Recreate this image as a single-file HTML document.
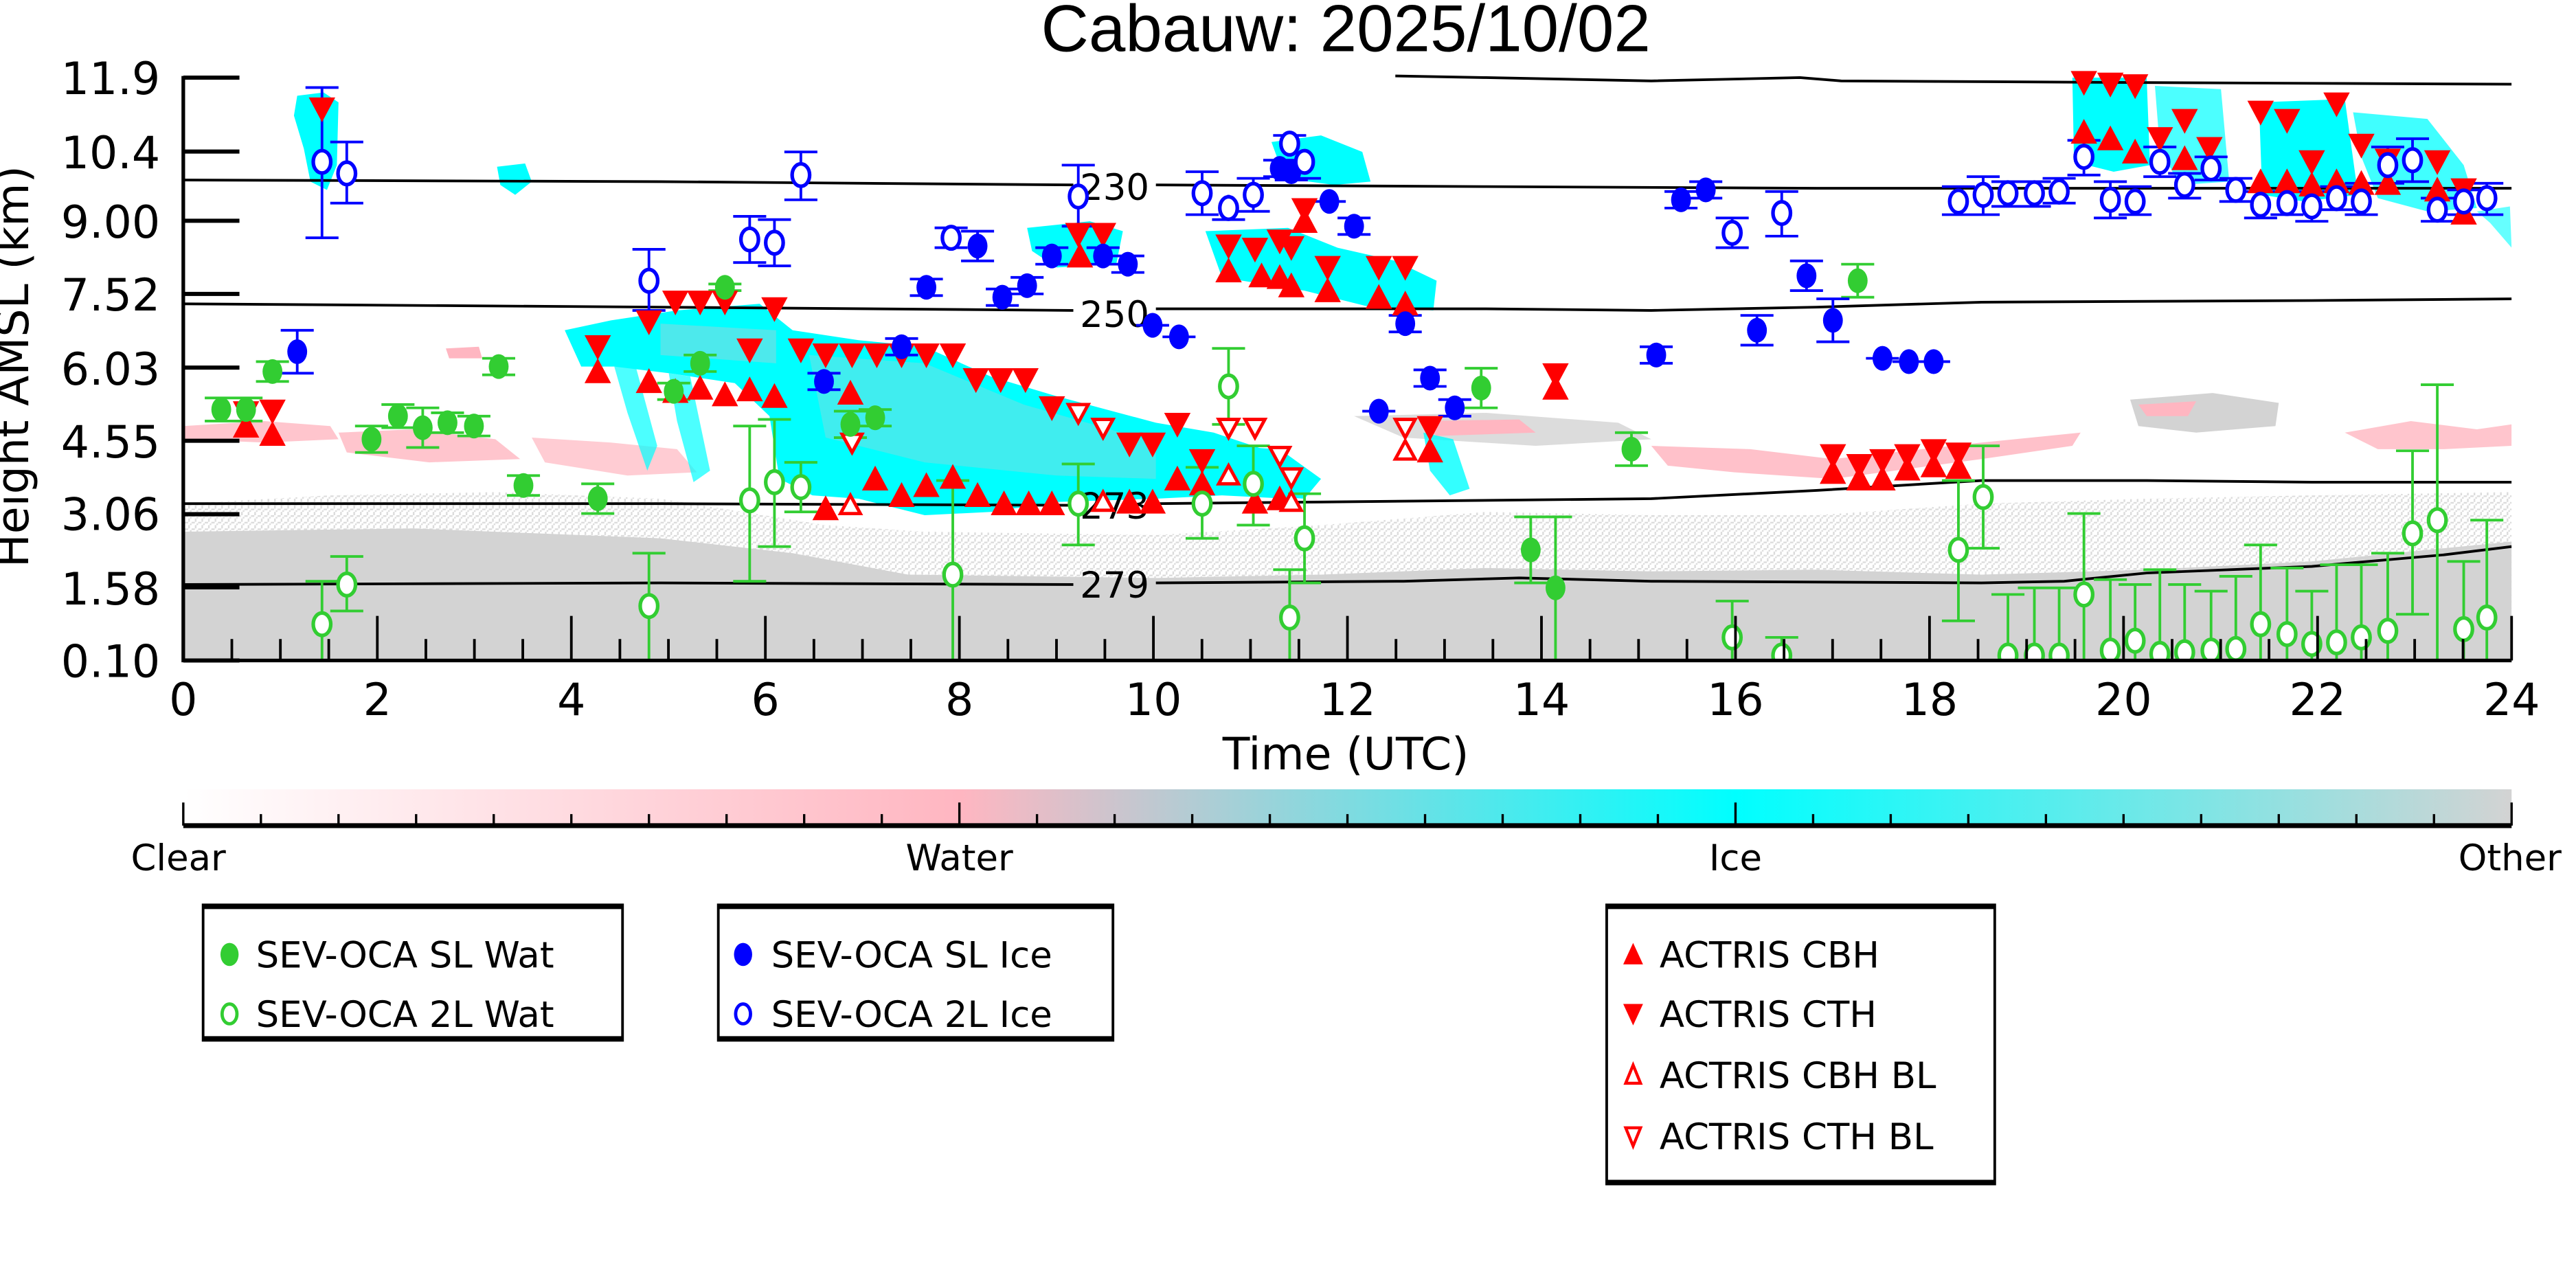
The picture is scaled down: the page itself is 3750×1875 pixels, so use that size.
<!DOCTYPE html>
<html><head><meta charset="utf-8"><style>html,body{margin:0;padding:0;background:#fff;}svg{display:block;}</style></head>
<body>
<svg width="3750" height="1875" viewBox="0 0 1560 780" xmlns="http://www.w3.org/2000/svg">
<defs>
<clipPath id="pc"><rect x="111" y="40" width="1410" height="360"/></clipPath>
<linearGradient id="cb" x1="0" x2="1" y1="0" y2="0">
<stop offset="0" stop-color="#ffffff"/><stop offset="0.3333" stop-color="#ffb6c1"/><stop offset="0.6667" stop-color="#00ffff"/><stop offset="1" stop-color="#d3d3d3"/>
</linearGradient>
<pattern id="spk" width="4" height="4" patternUnits="userSpaceOnUse"><rect width="4" height="4" fill="#fff"/><rect x="0" y="0" width="2" height="1" fill="#d3d3d3"/><rect x="2" y="2" width="1" height="2" fill="#d3d3d3"/><rect x="3" y="1" width="1" height="1" fill="#d3d3d3"/></pattern>
<ellipse id="gf" rx="6" ry="7.5" fill="#32cd32"/>
<ellipse id="go" rx="5.3" ry="6.8" fill="#fff" stroke="#32cd32" stroke-width="2.2"/>
<ellipse id="bf" rx="6" ry="7.5" fill="#0000ff"/>
<ellipse id="bo" rx="5.3" ry="6.8" fill="#fff" stroke="#0000ff" stroke-width="2.2"/>
<path id="td" d="M-8,-7H8L0,8Z" fill="#ff0000"/>
<path id="tu" d="M-8,7H8L0,-8Z" fill="#ff0000"/>
<path id="tdo" d="M-6,-5H6L0,6Z" fill="#fff" stroke="#ff0000" stroke-width="2"/>
<path id="tuo" d="M-6,5H6L0,-6Z" fill="#fff" stroke="#ff0000" stroke-width="2"/>
</defs>

<text x="815" y="31" font-family="Liberation Sans, sans-serif" font-size="40" text-anchor="middle">Cabauw: 2025/10/02</text>

<g clip-path="url(#pc)">
<path d="M111,305 L200,300 L300,298 L400,302 L500,318 L560,322 L700,324 L800,318 L900,310 L1000,312 L1100,312 L1200,305 L1300,302 L1400,300 L1521,298 L1521,400 L111,400Z" fill="url(#spk)" opacity="0.8"/>
<path d="M111,322 L250,320 L400,326 L480,335 L550,348 L700,350 L800,348 L900,344 L1000,346 L1100,345 L1200,348 L1300,345 L1400,340 L1480,332 L1521,328 L1521,400 L111,400Z" fill="#d3d3d3"/>
<path d="M111,258 L160,255 L200,258 L205,266 L160,268 L111,266Z" fill="#ffb6c1" opacity="0.8"/>
<path d="M205,262 L250,260 L300,266 L315,278 L260,280 L210,274Z" fill="#ffb6c1" opacity="0.8"/>
<path d="M270,211 L290,210 L292,217 L272,217Z" fill="#ffb6c1"/>
<path d="M322,265 L370,268 L410,272 L422,286 L380,288 L330,280Z" fill="#ffb6c1" opacity="0.7"/>
<path d="M820,252 L900,250 L980,256 L1000,266 L930,270 L850,265Z" fill="#d3d3d3" opacity="0.8"/>
<path d="M860,255 L920,254 L930,262 L870,264Z" fill="#ffb6c1"/>
<path d="M1000,270 L1060,272 L1110,278 L1200,268 L1260,262 L1255,270 L1200,278 L1110,290 L1050,286 L1010,282Z" fill="#ffb6c1" opacity="0.85"/>
<path d="M1290,242 L1340,238 L1380,244 L1378,258 L1330,262 L1295,258Z" fill="#d3d3d3"/>
<path d="M1295,245 L1330,243 L1325,252 L1300,252Z" fill="#ffb6c1"/>
<path d="M1420,262 L1460,255 L1500,260 L1521,257 L1521,270 L1480,272 L1440,272Z" fill="#ffb6c1" opacity="0.8"/>
<path d="M180,58 L196,56 L205,62 L204,100 L198,115 L188,110 L184,90 L178,70Z" fill="#00ffff"/>
<path d="M301,101 L318,99 L322,110 L312,118 L303,112Z" fill="#00ffff"/>
<path d="M342,200 L370,194 L410,188 L460,184 L480,200 L520,206 L560,210 L600,228 L640,240 L700,256 L735,262 L765,272 L790,292 L780,302 L740,300 L700,302 L640,304 L600,310 L560,312 L520,302 L492,300 L472,290 L466,252 L445,232 L405,226 L372,222 L352,222Z" fill="#00ffff"/>
<path d="M372,222 L385,222 L398,270 L392,285 L380,250Z" fill="#00ffff" opacity="0.7"/>
<path d="M405,226 L418,228 L430,285 L420,292 L410,255Z" fill="#00ffff" opacity="0.7"/>
<path d="M490,215 L560,220 L620,245 L700,268 L700,290 L640,288 L560,280 L500,265Z" fill="#ffb6c1" opacity="0.25"/>
<path d="M400,196 L470,200 L470,220 L400,215Z" fill="#ffb6c1" opacity="0.3"/>
<path d="M622,138 L660,134 L680,140 L676,160 L640,162 L625,152Z" fill="#00ffff"/>
<path d="M730,140 L780,138 L810,150 L845,158 L870,170 L868,188 L830,186 L790,176 L740,168Z" fill="#00ffff"/>
<path d="M770,86 L800,82 L825,92 L830,110 L808,112 L778,108Z" fill="#00ffff"/>
<path d="M740,270 L775,272 L800,290 L790,302 L760,300 L742,288Z" fill="#00ffff"/>
<path d="M862,262 L880,266 L890,296 L878,300 L866,285Z" fill="#00ffff" opacity="0.8"/>
<path d="M1255,47 L1300,47 L1302,100 L1280,104 L1256,98Z" fill="#00ffff"/>
<path d="M1305,52 L1345,54 L1350,110 L1320,112 L1308,90Z" fill="#00ffff" opacity="0.7"/>
<path d="M1368,62 L1420,60 L1428,118 L1395,122 L1370,118Z" fill="#00ffff"/>
<path d="M1425,68 L1470,72 L1492,100 L1500,126 L1470,128 L1440,120 L1430,95Z" fill="#00ffff" opacity="0.75"/>
<path d="M1500,128 L1520,125 L1521,150 L1508,135Z" fill="#00ffff" opacity="0.6"/>

<g fill="none" stroke="#000" stroke-width="1.6">
<path d="M845,46 L900,47 L1000,49 L1090,47 L1115,49 L1300,50 L1521,51"/>
<path d="M111,109 L400,110 L650,112 M700,112 L900,113 L1100,114 L1521,114"/>
<path d="M111,184 L400,186 L650,188 M700,187 L900,187 L1000,188 L1100,186 L1200,183 L1400,182 L1521,181"/>
<path d="M111,305 L400,305 L650,306 M700,305 L800,304 L1000,302 L1100,297 L1200,291 L1300,291 L1400,292 L1521,292"/>
<path d="M111,354 L400,353 L650,354 M700,353 L850,352 L920,350 L1000,352 L1200,353 L1250,352 L1300,347 L1400,343 L1480,336 L1521,331"/>
</g>
<g font-family="DejaVu Sans, sans-serif" font-size="22" text-anchor="middle">
<text x="675" y="121">230</text>
<text x="675" y="198">250</text>
<text x="675" y="314">273</text>
<text x="675" y="362">279</text>
</g>

<path fill="none" stroke="#32cd32" stroke-width="1.6" d="M134 241V255M124 241h20M124 255h20M149 241V255M139 241h20M139 255h20M165 219V231M155 219h20M155 231h20M225 258V274M215 258h20M215 274h20M241 245V259M231 245h20M231 259h20M256 247V271M246 247h20M246 271h20M271 250V262M261 250h20M261 262h20M287 252V264M277 252h20M277 264h20M302 217V227M292 217h20M292 227h20M317 288V300M307 288h20M307 300h20M362 293V311M352 293h20M352 311h20M408 232V242M398 232h20M398 242h20M424 215V225M414 215h20M414 225h20M429 172h20M429 176h20M515 249V265M505 249h20M505 265h20M530 248V258M520 248h20M520 258h20M897 223V247M887 223h20M887 247h20M927 313V353M917 313h20M917 353h20M942 313V400M932 313h20M988 262V282M978 262h20M978 282h20M1125 160V180M1115 160h20M1115 180h20
M195 352V400M185 352h20M210 337V370M200 337h20M200 370h20M393 335V400M383 335h20M454 258V352M444 258h20M444 352h20M469 254V331M459 254h20M459 331h20M485 280V310M475 280h20M475 310h20M577 291V400M567 291h20M653 281V330M643 281h20M643 330h20M728 283V326M718 283h20M718 326h20M744 211V257M734 211h20M734 257h20M759 270V318M749 270h20M749 318h20M790 299V353M780 299h20M780 353h20M781 345V400M771 345h20M1049 364V400M1039 364h20M1079 386V400M1069 386h20M1186 291V376M1176 291h20M1176 376h20M1201 270V332M1191 270h20M1191 332h20M1216 360V400M1206 360h20M1232 356V400M1222 356h20M1247 356V400M1237 356h20M1262 311V400M1252 311h20M1278 351V400M1268 351h20M1293 354V400M1283 354h20M1308 345V400M1298 345h20M1323 354V400M1313 354h20M1339 358V400M1329 358h20M1354 349V400M1344 349h20M1369 330V400M1359 330h20M1385 344V400M1375 344h20M1400 358V400M1390 358h20M1415 342V400M1405 342h20M1430 342V400M1420 342h20M1446 335V400M1436 335h20M1461 273V372M1451 273h20M1451 372h20M1476 233V400M1466 233h20M1492 340V400M1482 340h20M1506 315V400M1496 315h20"/>
<path fill="none" stroke="#0000ff" stroke-width="1.6" d="M180 200V226M170 200h20M170 226h20M499 226V236M489 226h20M489 236h20M546 205V215M536 205h20M536 215h20M561 169V179M551 169h20M551 179h20M592 140V158M582 140h20M582 158h20M607 175V185M597 175h20M597 185h20M622 168V178M612 168h20M612 178h20M637 150V160M627 150h20M627 160h20M668 150V160M658 150h20M658 160h20M683 155V165M673 155h20M673 165h20M688 197h20M704 204h20M775 97V107M765 97h20M765 107h20M782 99V109M772 109h20M795 122h20M820 132V142M810 132h20M810 142h20M851 191V201M841 191h20M841 201h20M866 224V234M856 224h20M856 234h20M825 249h20M881 242V252M871 242h20M871 252h20M1003 210V220M993 210h20M993 220h20M1018 116V126M1008 116h20M1008 126h20M1033 110V120M1023 110h20M1023 120h20M1064 191V209M1054 191h20M1054 209h20M1094 158V176M1084 158h20M1084 176h20M1110 181V207M1100 181h20M1100 207h20M1130 217h20M1146 219h20M1161 219h20
M195 53V144M185 53h20M185 144h20M210 86V123M200 86h20M200 123h20M393 151V188M383 151h20M383 188h20M454 131V159M444 131h20M444 159h20M469 133V161M459 133h20M459 161h20M485 92V121M475 92h20M475 121h20M566 138h20M566 150h20M653 100V137M643 100h20M643 137h20M728 104V130M718 104h20M718 130h20M744 118V133M734 133h20M759 108V128M749 108h20M749 128h20M771 82h20M780 108h20M1049 132V150M1039 132h20M1039 150h20M1079 116V143M1069 116h20M1069 143h20M1176 113h20M1176 130h20M1201 107V130M1191 107h20M1191 130h20M1206 110h20M1206 125h20M1222 110h20M1222 125h20M1237 108h20M1237 123h20M1262 85V106M1252 85h20M1252 106h20M1278 110V132M1268 110h20M1268 132h20M1283 113h20M1283 130h20M1308 89V107M1298 89h20M1298 107h20M1313 105h20M1313 120h20M1329 95h20M1329 109h20M1344 108h20M1344 122h20M1369 116V132M1359 116h20M1359 132h20M1375 116h20M1375 130h20M1400 116V134M1390 116h20M1390 134h20M1405 113h20M1405 127h20M1430 111V130M1420 111h20M1420 130h20M1446 89V111M1436 89h20M1436 111h20M1461 84V110M1451 84h20M1451 110h20M1466 120h20M1466 134h20M1482 115h20M1482 130h20M1506 111V130M1496 111h20M1496 130h20"/>

<g>
<use href="#td" x="195" y="66"/><use href="#td" x="149" y="250"/><use href="#td" x="165" y="249"/>
<use href="#tu" x="149" y="258"/><use href="#tu" x="165" y="263"/>
<use href="#td" x="362" y="210"/><use href="#td" x="393" y="195"/><use href="#td" x="409" y="183"/><use href="#td" x="424" y="183"/><use href="#td" x="439" y="183"/><use href="#td" x="454" y="212"/><use href="#td" x="469" y="187"/><use href="#td" x="485" y="212"/><use href="#td" x="500" y="215"/><use href="#td" x="516" y="215"/><use href="#td" x="531" y="215"/><use href="#td" x="546" y="215"/><use href="#td" x="561" y="215"/><use href="#td" x="577" y="215"/><use href="#td" x="591" y="230"/><use href="#td" x="606" y="230"/><use href="#td" x="621" y="230"/><use href="#td" x="637" y="247"/><use href="#td" x="684" y="269"/><use href="#td" x="698" y="269"/><use href="#td" x="713" y="257"/><use href="#td" x="728" y="279"/>
<use href="#td" x="653" y="142"/><use href="#td" x="668" y="142"/><use href="#td" x="744" y="149"/><use href="#td" x="760" y="151"/><use href="#td" x="775" y="146"/><use href="#td" x="782" y="150"/><use href="#td" x="790" y="127"/><use href="#td" x="804" y="162"/><use href="#td" x="835" y="162"/><use href="#td" x="851" y="162"/><use href="#td" x="866" y="259"/><use href="#td" x="942" y="227"/>
<use href="#td" x="1110" y="276"/><use href="#td" x="1126" y="282"/><use href="#td" x="1140" y="279"/><use href="#td" x="1155" y="276"/><use href="#td" x="1171" y="273"/><use href="#td" x="1186" y="275"/>
<use href="#td" x="1262" y="50"/><use href="#td" x="1278" y="51"/><use href="#td" x="1293" y="52"/><use href="#td" x="1308" y="84"/><use href="#td" x="1323" y="73"/><use href="#td" x="1338" y="90"/><use href="#td" x="1369" y="68"/><use href="#td" x="1385" y="73"/><use href="#td" x="1400" y="98"/><use href="#td" x="1415" y="63"/><use href="#td" x="1430" y="88"/><use href="#td" x="1446" y="97"/><use href="#td" x="1476" y="98"/><use href="#td" x="1492" y="115"/>
<use href="#tu" x="362" y="225"/><use href="#tu" x="393" y="231"/><use href="#tu" x="409" y="237"/><use href="#tu" x="424" y="235"/><use href="#tu" x="439" y="239"/><use href="#tu" x="454" y="236"/><use href="#tu" x="469" y="240"/><use href="#tu" x="500" y="308"/><use href="#tu" x="515" y="238"/><use href="#tu" x="530" y="290"/><use href="#tu" x="546" y="300"/><use href="#tu" x="561" y="294"/><use href="#tu" x="577" y="289"/><use href="#tu" x="592" y="300"/><use href="#tu" x="608" y="305"/><use href="#tu" x="623" y="305"/><use href="#tu" x="637" y="305"/><use href="#tu" x="684" y="304"/><use href="#tu" x="698" y="304"/><use href="#tu" x="713" y="290"/><use href="#tu" x="728" y="293"/><use href="#tu" x="760" y="304"/><use href="#tu" x="775" y="302"/>
<use href="#tu" x="654" y="155"/><use href="#tu" x="744" y="164"/><use href="#tu" x="764" y="167"/><use href="#tu" x="775" y="168"/><use href="#tu" x="782" y="173"/><use href="#tu" x="790" y="134"/><use href="#tu" x="804" y="176"/><use href="#tu" x="835" y="180"/><use href="#tu" x="851" y="184"/><use href="#tu" x="866" y="273"/><use href="#tu" x="942" y="235"/>
<use href="#tu" x="1110" y="286"/><use href="#tu" x="1126" y="290"/><use href="#tu" x="1140" y="290"/><use href="#tu" x="1155" y="284"/><use href="#tu" x="1171" y="282"/><use href="#tu" x="1186" y="283"/>
<use href="#tu" x="1262" y="80"/><use href="#tu" x="1278" y="84"/><use href="#tu" x="1293" y="92"/><use href="#tu" x="1323" y="96"/><use href="#tu" x="1369" y="110"/><use href="#tu" x="1385" y="110"/><use href="#tu" x="1400" y="112"/><use href="#tu" x="1415" y="110"/><use href="#tu" x="1430" y="111"/><use href="#tu" x="1446" y="111"/><use href="#tu" x="1476" y="115"/><use href="#tu" x="1492" y="129"/>
<use href="#tdo" x="516" y="268"/><use href="#tdo" x="653" y="250"/><use href="#tdo" x="668" y="259"/><use href="#tdo" x="744" y="259"/><use href="#tdo" x="760" y="259"/><use href="#tdo" x="775" y="276"/><use href="#tdo" x="782" y="289"/><use href="#tdo" x="851" y="259"/>
<use href="#tuo" x="515" y="306"/><use href="#tuo" x="668" y="304"/><use href="#tuo" x="744" y="288"/><use href="#tuo" x="782" y="304"/><use href="#tuo" x="851" y="273"/>
</g>

<g>
<use href="#gf" x="134" y="248"/><use href="#gf" x="149" y="248"/><use href="#gf" x="165" y="225"/><use href="#gf" x="225" y="266"/><use href="#gf" x="241" y="252"/><use href="#gf" x="256" y="259"/><use href="#gf" x="271" y="256"/><use href="#gf" x="287" y="258"/><use href="#gf" x="302" y="222"/><use href="#gf" x="317" y="294"/><use href="#gf" x="362" y="302"/><use href="#gf" x="408" y="237"/><use href="#gf" x="424" y="220"/><use href="#gf" x="439" y="174"/><use href="#gf" x="515" y="257"/><use href="#gf" x="530" y="253"/><use href="#gf" x="897" y="235"/><use href="#gf" x="927" y="333"/><use href="#gf" x="942" y="356"/><use href="#gf" x="988" y="272"/><use href="#gf" x="1125" y="170"/>
</g>
<g>
<use href="#go" x="195" y="378"/><use href="#go" x="210" y="354"/><use href="#go" x="393" y="367"/><use href="#go" x="454" y="303"/><use href="#go" x="469" y="292"/><use href="#go" x="485" y="295"/><use href="#go" x="577" y="348"/><use href="#go" x="653" y="305"/><use href="#go" x="728" y="305"/><use href="#go" x="744" y="234"/><use href="#go" x="759" y="293"/><use href="#go" x="790" y="326"/><use href="#go" x="781" y="374"/><use href="#go" x="1049" y="386"/><use href="#go" x="1079" y="397"/><use href="#go" x="1186" y="333"/><use href="#go" x="1201" y="301"/><use href="#go" x="1216" y="397"/><use href="#go" x="1232" y="397"/><use href="#go" x="1247" y="397"/><use href="#go" x="1262" y="360"/><use href="#go" x="1278" y="394"/><use href="#go" x="1293" y="388"/><use href="#go" x="1308" y="396"/><use href="#go" x="1323" y="395"/><use href="#go" x="1339" y="394"/><use href="#go" x="1354" y="393"/><use href="#go" x="1369" y="378"/><use href="#go" x="1385" y="384"/><use href="#go" x="1400" y="390"/><use href="#go" x="1415" y="389"/><use href="#go" x="1430" y="386"/><use href="#go" x="1446" y="382"/><use href="#go" x="1461" y="323"/><use href="#go" x="1476" y="315"/><use href="#go" x="1492" y="381"/><use href="#go" x="1506" y="374"/>
</g>
<g>
<use href="#bf" x="180" y="213"/><use href="#bf" x="499" y="231"/><use href="#bf" x="546" y="210"/><use href="#bf" x="561" y="174"/><use href="#bf" x="592" y="149"/><use href="#bf" x="607" y="180"/><use href="#bf" x="622" y="173"/><use href="#bf" x="637" y="155"/><use href="#bf" x="668" y="155"/><use href="#bf" x="683" y="160"/><use href="#bf" x="698" y="197"/><use href="#bf" x="714" y="204"/><use href="#bf" x="775" y="102"/><use href="#bf" x="782" y="104"/><use href="#bf" x="805" y="122"/><use href="#bf" x="820" y="137"/><use href="#bf" x="851" y="196"/><use href="#bf" x="866" y="229"/><use href="#bf" x="835" y="249"/><use href="#bf" x="881" y="247"/><use href="#bf" x="1003" y="215"/><use href="#bf" x="1018" y="121"/><use href="#bf" x="1033" y="115"/><use href="#bf" x="1064" y="200"/><use href="#bf" x="1094" y="167"/><use href="#bf" x="1110" y="194"/><use href="#bf" x="1140" y="217"/><use href="#bf" x="1156" y="219"/><use href="#bf" x="1171" y="219"/>
</g>
<g>
<use href="#bo" x="195" y="98"/><use href="#bo" x="210" y="105"/><use href="#bo" x="393" y="170"/><use href="#bo" x="454" y="145"/><use href="#bo" x="469" y="147"/><use href="#bo" x="485" y="106"/><use href="#bo" x="576" y="144"/><use href="#bo" x="653" y="119"/><use href="#bo" x="728" y="117"/><use href="#bo" x="744" y="126"/><use href="#bo" x="759" y="118"/><use href="#bo" x="781" y="87"/><use href="#bo" x="790" y="98"/><use href="#bo" x="1049" y="141"/><use href="#bo" x="1079" y="129"/><use href="#bo" x="1186" y="122"/><use href="#bo" x="1201" y="118"/><use href="#bo" x="1216" y="117"/><use href="#bo" x="1232" y="117"/><use href="#bo" x="1247" y="116"/><use href="#bo" x="1262" y="95"/><use href="#bo" x="1278" y="121"/><use href="#bo" x="1293" y="122"/><use href="#bo" x="1308" y="98"/><use href="#bo" x="1323" y="112"/><use href="#bo" x="1339" y="102"/><use href="#bo" x="1354" y="115"/><use href="#bo" x="1369" y="124"/><use href="#bo" x="1385" y="123"/><use href="#bo" x="1400" y="125"/><use href="#bo" x="1415" y="120"/><use href="#bo" x="1430" y="122"/><use href="#bo" x="1446" y="100"/><use href="#bo" x="1461" y="97"/><use href="#bo" x="1476" y="127"/><use href="#bo" x="1492" y="122"/><use href="#bo" x="1506" y="120"/>
</g>
</g>

<g stroke="#000" fill="none">
<path d="M111,46 V400 H1521" stroke-width="2.2"/>
<path stroke-width="2.5" d="M111,47h34M111,91.8h34M111,133.7h34M111,178h34M111,222.6h34M111,266.9h34M111,311.4h34M111,355.7h34M111,400h34"/>
<path stroke-width="1.6" d="M228.5,400v-27M346,400v-27M463.5,400v-27M581,400v-27M698.5,400v-27M816,400v-27M933.5,400v-27M1051,400v-27M1168.5,400v-27M1286,400v-27M1403.5,400v-27M1521,400v-27
M140.4,400v-13M169.8,400v-13M199.1,400v-13M257.9,400v-13M287.3,400v-13M316.6,400v-13M375.4,400v-13M404.8,400v-13M434.1,400v-13M492.9,400v-13M522.3,400v-13M551.6,400v-13M610.4,400v-13M639.8,400v-13M669.1,400v-13M727.9,400v-13M757.3,400v-13M786.6,400v-13M845.4,400v-13M874.8,400v-13M904.1,400v-13M962.9,400v-13M992.3,400v-13M1021.6,400v-13M1080.4,400v-13M1109.8,400v-13M1139.1,400v-13M1197.9,400v-13M1227.3,400v-13M1256.6,400v-13M1315.4,400v-13M1344.8,400v-13M1374.1,400v-13M1432.9,400v-13M1462.3,400v-13M1491.6,400v-13"/>
</g>
<g font-family="DejaVu Sans, sans-serif" font-size="27" text-anchor="end">
<text x="97" y="57">11.9</text>
<text x="97" y="102">10.4</text>
<text x="97" y="144">9.00</text>
<text x="97" y="188">7.52</text>
<text x="97" y="233">6.03</text>
<text x="97" y="277">4.55</text>
<text x="97" y="321">3.06</text>
<text x="97" y="366">1.58</text>
<text x="97" y="410">0.10</text>
</g>
<g font-family="DejaVu Sans, sans-serif" font-size="27" text-anchor="middle">
<text x="111" y="433">0</text><text x="228.5" y="433">2</text><text x="346" y="433">4</text><text x="463.5" y="433">6</text><text x="581" y="433">8</text><text x="698.5" y="433">10</text><text x="816" y="433">12</text><text x="933.5" y="433">14</text><text x="1051" y="433">16</text><text x="1168.5" y="433">18</text><text x="1286" y="433">20</text><text x="1403.5" y="433">22</text><text x="1521" y="433">24</text>
<text x="815" y="466">Time (UTC)</text>
<text transform="translate(17,222) rotate(-90)">Height AMSL (km)</text>
</g>

<rect x="111" y="478" width="1410" height="22" fill="url(#cb)"/>
<g stroke="#000" fill="none">
<path d="M111,500H1521" stroke-width="3"/>
<path stroke-width="1.4" d="M111,500v-14M581,500v-14M1051,500v-14M1521,500v-14
M158,500v-7M205,500v-7M252,500v-7M299,500v-7M346,500v-7M393,500v-7M440,500v-7M487,500v-7M534,500v-7M628,500v-7M675,500v-7M722,500v-7M769,500v-7M816,500v-7M863,500v-7M910,500v-7M957,500v-7M1004,500v-7M1098,500v-7M1145,500v-7M1192,500v-7M1239,500v-7M1286,500v-7M1333,500v-7M1380,500v-7M1427,500v-7M1474,500v-7"/>
</g>
<g font-family="DejaVu Sans, sans-serif" font-size="22" text-anchor="middle">
<text x="108" y="527">Clear</text><text x="581" y="527">Water</text><text x="1051" y="527">Ice</text><text x="1520" y="527">Other</text>
</g>

<g fill="none" stroke="#000">
<rect x="123" y="548" width="254" height="82" stroke-width="1.6"/>
<path d="M123,549H377M123,629H377" stroke-width="3"/>
<rect x="435" y="548" width="239" height="82" stroke-width="1.6"/>
<path d="M435,549H674M435,629H674" stroke-width="3"/>
<rect x="973" y="548" width="235" height="169" stroke-width="1.6"/>
<path d="M973,549H1208M973,716H1208" stroke-width="3"/>
</g>
<ellipse cx="139" cy="578" rx="5.5" ry="7" fill="#32cd32"/>
<ellipse cx="139" cy="614" rx="4.5" ry="6" fill="#fff" stroke="#32cd32" stroke-width="2"/>
<ellipse cx="450" cy="578" rx="5.5" ry="7" fill="#0000ff"/>
<ellipse cx="450" cy="614" rx="4.5" ry="6" fill="#fff" stroke="#0000ff" stroke-width="2"/>
<path d="M983,584H995L989,571Z" fill="#ff0000"/>
<path d="M983,608H995L989,621Z" fill="#ff0000"/>
<path d="M984.5,656H993.5L989,645Z" fill="#fff" stroke="#ff0000" stroke-width="1.8"/>
<path d="M984.5,683H993.5L989,694Z" fill="#fff" stroke="#ff0000" stroke-width="1.8"/>
<g font-family="DejaVu Sans, sans-serif" font-size="22">
<text x="155" y="586">SEV-OCA SL Wat</text>
<text x="155" y="622">SEV-OCA 2L Wat</text>
<text x="467" y="586">SEV-OCA SL Ice</text>
<text x="467" y="622">SEV-OCA 2L Ice</text>
<text x="1005" y="586">ACTRIS CBH</text>
<text x="1005" y="622">ACTRIS CTH</text>
<text x="1005" y="659">ACTRIS CBH BL</text>
<text x="1005" y="696">ACTRIS CTH BL</text>
</g>
</svg>
</body></html>
